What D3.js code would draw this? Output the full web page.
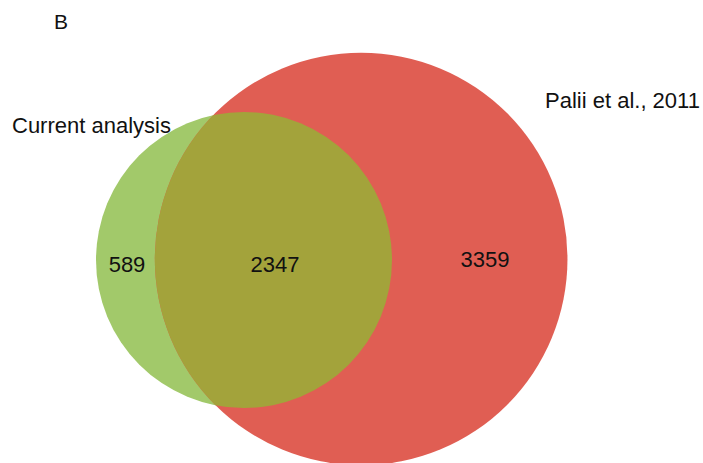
<!DOCTYPE html>
<html>
<head>
<meta charset="utf-8">
<script src="https://cdn.jsdelivr.net/npm/d3@7"></script>
<style>
  html, body { margin: 0; padding: 0; background: #fff; }
  svg { display: block; }
  text { font-family: "Liberation Sans", Arial, Helvetica, sans-serif; fill: #111; }
</style>
</head>
<body>
<svg id="chart" width="703" height="463"></svg>
<script>
// ---- data ----
const panelLabel = "B";
const setNames = ["Current analysis", "Palii et al., 2011"];
const regionLabels = ["only current", "both", "only Palii"];
const regionCounts = [589, 2347, 3359];
const setColors = ["#a2c96a", "#e05e53"];
const overlapColor = "#a3a33b";

// ---- layout ----
const svg = d3.select("#chart");
const totals = [regionCounts[0] + regionCounts[1], regionCounts[1] + regionCounts[2]];
const rScale = d3.scaleSqrt().domain([0, totals[0]]).range([0, 148]);
const r1 = rScale(totals[0]), r2 = rScale(totals[1]);
const unitArea = Math.PI * r1 * r1 / totals[0];
const targetOverlap = regionCounts[1] * unitArea;

function lens(d) {
  if (d >= r1 + r2) return 0;
  if (d <= Math.abs(r2 - r1)) return Math.PI * Math.min(r1, r2) ** 2;
  const a1 = r1 * r1 * Math.acos((d * d + r1 * r1 - r2 * r2) / (2 * d * r1));
  const a2 = r2 * r2 * Math.acos((d * d + r2 * r2 - r1 * r1) / (2 * d * r2));
  const t = 0.5 * Math.sqrt((-d + r1 + r2) * (d + r1 - r2) * (d - r1 + r2) * (d + r1 + r2));
  return a1 + a2 - t;
}
let lo = Math.abs(r2 - r1), hi = r1 + r2;
for (let i = 0; i < 80; i++) {
  const mid = (lo + hi) / 2;
  if (lens(mid) > targetOverlap) lo = mid; else hi = mid;
}
const dist = (lo + hi) / 2;

const cx1 = 244, cy = 260;
const cx2 = cx1 + dist;
const circles = [
  { cx: cx1, cy: cy, r: r1, color: setColors[0] },
  { cx: cx2, cy: cy - 1, r: r2, color: setColors[1] }
];

const defs = svg.append("defs");
defs.append("clipPath").attr("id", "clipGreen")
  .append("circle").attr("cx", circles[0].cx).attr("cy", circles[0].cy).attr("r", circles[0].r);

svg.append("g").selectAll("circle").data(circles).join("circle")
  .attr("cx", d => d.cx).attr("cy", d => d.cy).attr("r", d => d.r)
  .attr("fill", d => d.color);

svg.append("circle")
  .attr("cx", circles[1].cx).attr("cy", circles[1].cy).attr("r", circles[1].r)
  .attr("fill", overlapColor)
  .attr("clip-path", "url(#clipGreen)");

// panel label
svg.append("text").attr("x", 61).attr("y", 29).attr("text-anchor", "middle")
  .style("font-size", "21px").text(panelLabel);

// set names
svg.append("text").attr("x", 12).attr("y", 133).style("font-size", "22px").text(setNames[0]);
svg.append("text").attr("x", 545).attr("y", 108).style("font-size", "22px").text(setNames[1]);

// region counts
const countPos = [
  { x: 127, y: 264 },
  { x: 275, y: 264 },
  { x: 485, y: 259 }
];
svg.append("g").selectAll("text").data(regionCounts).join("text")
  .attr("x", (d, i) => countPos[i].x).attr("y", (d, i) => countPos[i].y)
  .attr("text-anchor", "middle").attr("dominant-baseline", "central")
  .style("font-size", "22px")
  .text(d => d);
</script>
</body>
</html>
